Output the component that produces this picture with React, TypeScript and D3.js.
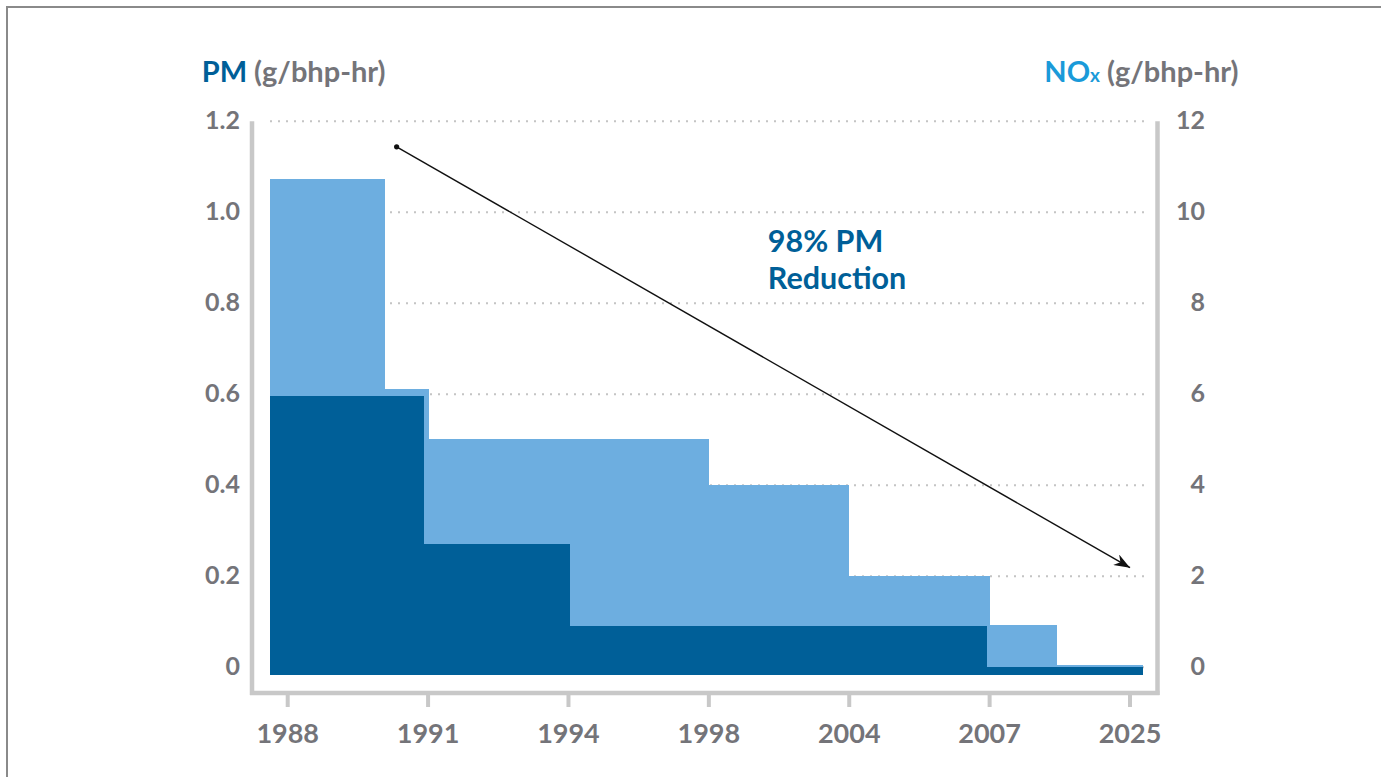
import React from "react";
import * as d3 from "d3";

// ---- data ----
const yearLabels = ["1988", "1991", "1994", "1998", "2004", "2007", "2025"];
const pmTicks = [0, 0.2, 0.4, 0.6, 0.8, 1.0, 1.2];
const pmTickLabels = ["0", "0.2", "0.4", "0.6", "0.8", "1.0", "1.2"];
const noxTickLabels = ["0", "2", "4", "6", "8", "10", "12"];

// NOx standard steps (positions in category-index units)
const noxStart = [-0.125, 0.69, 1.005, 3.0, 3.993, 4.98, 5.478];
const noxEnd = [0.69, 1.005, 3.0, 3.993, 5.0, 5.478, 6.086];
const noxValues = [10.74, 6.12, 5.02, 4.0, 2.0, 0.92, 0.05];

// PM standard steps
const pmStart = [-0.125, 0.97, 2.006, 4.98];
const pmEnd = [0.97, 2.006, 4.98, 6.086];
const pmValues = [0.596, 0.271, 0.091, 0.0];

const barFloor = -0.016; // bars extend slightly below the zero line

// annotation arrow (index units, PM units)
const arrowFrom = [0.776, 1.144];
const arrowTo = [6.0, 0.219];
const noteLines = ["98% PM", "Reduction"];
const notePos = [3.42, 0.913];

const W = 1381;
const H = 777;
const FONT = "Lato, 'Open Sans', sans-serif";
const GRAY = "#747479";
const AXIS = "#c8c8c8";
const LIGHT = "#6daee0";
const DARK = "#005f98";
const PMBLUE = "#005f98";
const NOXBLUE = "#1a9ad9";

export default function App() {
  const x = d3.scaleLinear().domain([0, 6]).range([287.7, 1130]);
  const y = d3.scaleLinear().domain([0, 1.2]).range([667.3, 121.3]);
  const yN = d3.scaleLinear().domain([0, 12]).range([667.3, 121.3]);

  const axisTop = y(1.2);
  const axisBottom = 693;
  const leftX = 252;
  const rightX = 1157.5;

  const gridX0 = 270;
  const gridX1 = 1148;

  return (
    <svg
      width={W}
      height={H}
      style={{ position: "absolute", left: 0, top: 0, background: "#fff" }}
      fontFamily={FONT}
    >
      {/* outer frame */}
      <rect x={7} y={7} width={W + 20} height={H + 20} fill="none" stroke="#8a8a8a" strokeWidth={2} />

      {/* gridlines */}
      {pmTicks.map((t) => (
        <line
          key={"g" + t}
          x1={gridX0}
          x2={gridX1}
          y1={y(t)}
          y2={y(t)}
          stroke="#c4c4c4"
          strokeWidth={2}
          strokeDasharray="2 6"
        />
      ))}

      {/* NOx bars */}
      <g shapeRendering="crispEdges">
        {noxValues.map((v, i) => (
          <rect
            key={"n" + i}
            x={x(noxStart[i])}
            width={x(noxEnd[i]) - x(noxStart[i]) + 0.5}
            y={yN(v)}
            height={y(barFloor) - yN(v)}
            fill={LIGHT}
          />
        ))}
      </g>

      {/* PM bars */}
      <g shapeRendering="crispEdges">
        {pmValues.map((v, i) => (
          <rect
            key={"p" + i}
            x={x(pmStart[i])}
            width={x(pmEnd[i]) - x(pmStart[i]) + 0.5}
            y={y(v)}
            height={y(barFloor) - y(v)}
            fill={DARK}
          />
        ))}
      </g>

      {/* axes */}
      <line x1={leftX} x2={leftX} y1={axisTop} y2={axisBottom + 2} stroke={AXIS} strokeWidth={4.5} />
      <line x1={rightX} x2={rightX} y1={axisTop} y2={axisBottom + 2} stroke={AXIS} strokeWidth={4.5} />
      <line x1={leftX - 2} x2={rightX + 2} y1={axisBottom} y2={axisBottom} stroke={AXIS} strokeWidth={4.5} />
      {yearLabels.map((lab, i) => (
        <g key={"x" + lab}>
          <line x1={x(i)} x2={x(i)} y1={axisBottom} y2={707} stroke={AXIS} strokeWidth={4} />
          <text x={x(i)} y={743} textAnchor="middle" fontSize={27} fontWeight={700} fill={GRAY}>
            {lab}
          </text>
        </g>
      ))}

      {/* left tick labels */}
      {pmTicks.map((t, i) => (
        <text
          key={"l" + t}
          x={240}
          y={y(t) - 1}
          dy="0.36em"
          textAnchor="end"
          fontSize={25}
          fontWeight={700}
          fill={GRAY}
        >
          {pmTickLabels[i]}
        </text>
      ))}
      {/* right tick labels */}
      {noxTickLabels.map((lab, i) => (
        <text
          key={"r" + lab}
          x={1205}
          y={yN(+lab) - 1}
          dy="0.36em"
          textAnchor="end"
          fontSize={25}
          fontWeight={700}
          fill={GRAY}
        >
          {lab}
        </text>
      ))}

      {/* axis titles */}
      <text x={201.7} y={81.7} fontSize={29} fontWeight={700} fill={GRAY}>
        <tspan fill={PMBLUE}>PM</tspan>
        <tspan> (g/bhp-hr)</tspan>
      </text>
      <text x={1044.3} y={81.7} fontSize={29} fontWeight={700} fill={GRAY}>
        <tspan fill={NOXBLUE}>NO</tspan>
        <tspan fill={NOXBLUE} fontSize={19}>x</tspan>
        <tspan> (g/bhp-hr)</tspan>
      </text>

      {/* arrow annotation */}
      <defs>
        <marker
          id="arrowHead"
          viewBox="0 0 16 12"
          refX={16}
          refY={6}
          markerWidth={16}
          markerHeight={12}
          markerUnits="userSpaceOnUse"
          orient="auto"
        >
          <path d="M0,0 L16,6 L0,12 L5,6 Z" fill="#111" />
        </marker>
      </defs>
      <circle cx={x(arrowFrom[0])} cy={y(arrowFrom[1])} r={2.6} fill="#111" />
      <line
        x1={x(arrowFrom[0])}
        y1={y(arrowFrom[1])}
        x2={x(arrowTo[0])}
        y2={y(arrowTo[1])}
        stroke="#111"
        strokeWidth={1.4}
        markerEnd="url(#arrowHead)"
      />

      <text x={x(notePos[0])} y={y(notePos[1])} fontSize={30.5} fontWeight={700} fill={PMBLUE}>
        {noteLines.map((ln, i) => (
          <tspan key={ln} x={x(notePos[0])} dy={i === 0 ? 0 : 37.6}>
            {ln}
          </tspan>
        ))}
      </text>
    </svg>
  );
}
